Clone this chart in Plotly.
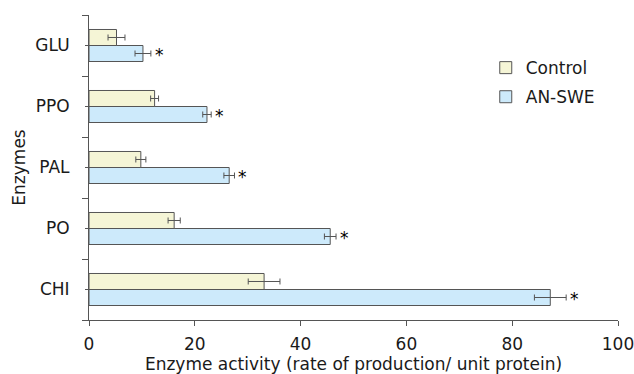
import plotly.graph_objects as go

# Enzyme activity per treatment (bottom to top on the chart)
enzymes = ["CHI", "PO", "PAL", "PPO", "GLU"]
control = [33.1, 16.1, 9.8, 12.4, 5.2]
control_err = [3.0, 1.15, 0.95, 0.75, 1.6]
answe = [87.2, 45.6, 26.5, 22.3, 10.2]
answe_err = [3.0, 1.1, 1.0, 0.8, 1.5]
significant = ["*", "*", "*", "*", "*"]
x_ticks = [0, 20, 40, 60, 80, 100]

positions = list(range(len(enzymes)))
bargap = 0.475
bar_w = (1 - bargap) / 2

FONT = "DejaVu Sans, Verdana, sans-serif"
LINE = "#555555"
TEXT = "#1a1a1a"
FS = 17

fig = go.Figure()
fig.add_trace(go.Bar(
    name="AN-SWE", y=positions, x=answe, orientation="h",
    marker=dict(color="#cdeafb", line=dict(color=LINE, width=1)),
    error_x=dict(type="data", array=answe_err, color=LINE, thickness=1, width=3),
    legendgroup="b", legendrank=2,
))
fig.add_trace(go.Bar(
    name="Control", y=positions, x=control, orientation="h",
    marker=dict(color="#f5f5d6", line=dict(color=LINE, width=1)),
    error_x=dict(type="data", array=control_err, color=LINE, thickness=1, width=3),
    legendgroup="a", legendrank=1,
))

# significance markers just past the AN-SWE error bars
for p, v, e, s in zip(positions, answe, answe_err, significant):
    fig.add_annotation(
        x=v + e, y=p - bar_w / 2, text=s, showarrow=False,
        xanchor="left", xshift=2, yshift=-1,
        font=dict(family=FONT, size=FS, color="#000000"),
    )

fig.update_layout(
    width=634, height=374,
    margin=dict(l=89, r=16, t=15, b=54, autoexpand=False),
    paper_bgcolor="white", plot_bgcolor="white",
    barmode="group", bargap=bargap, bargroupgap=0,
    font=dict(family=FONT, size=FS, color=TEXT),
    legend=dict(
        x=0.75, y=0.885, xanchor="left", yanchor="top",
        traceorder="grouped", tracegroupgap=4,
        bgcolor="rgba(0,0,0,0)", itemwidth=30,
        font=dict(family=FONT, size=FS, color=TEXT),
    ),
    xaxis=dict(
        range=[0, 100], tickvals=x_ticks, ticks="outside", ticklen=5,
        tickcolor=LINE, showline=True, linecolor=LINE, linewidth=1,
        showgrid=False, zeroline=False, automargin=False,
        ticklabelstandoff=4, ticklabeloverflow="allow",
        title=dict(text="Enzyme activity (rate of production/ unit protein)",
                   standoff=10, font=dict(size=FS)),
    ),
    yaxis=dict(
        range=[-0.5, len(enzymes) - 0.5],
        tickvals=positions, ticktext=enzymes,
        ticks="outside", ticklen=3, tickcolor=LINE, ticklabelstandoff=12,
        minor=dict(tickvals=[p - 0.5 for p in positions] + [len(enzymes) - 0.5],
                   ticks="outside", ticklen=6, tickcolor=LINE, showgrid=False),
        showline=True, linecolor=LINE, linewidth=1,
        showgrid=False, zeroline=False, automargin=False,
        title=dict(text="Enzymes", standoff=5, font=dict(size=FS)),
    ),
)

fig.write_html("out.html")
